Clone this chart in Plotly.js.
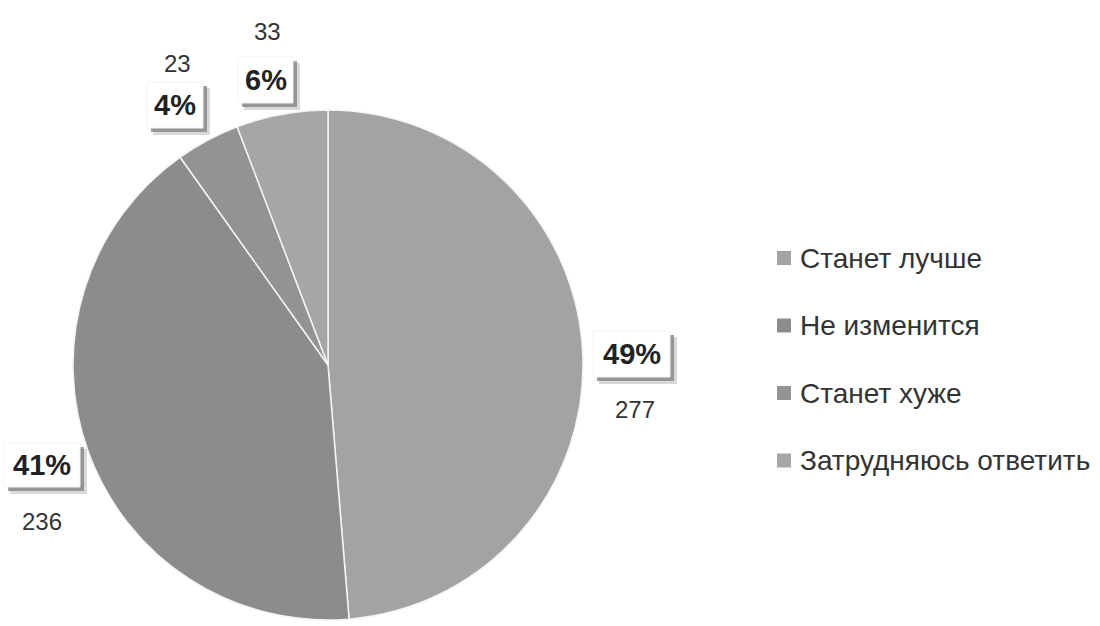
<!DOCTYPE html>
<html>
<head>
<meta charset="utf-8">
<script src="https://cdn.plot.ly/plotly-3.0.1.min.js"></script>
<style>
  html, body { margin: 0; padding: 0; background: #fff; }
  #chart { width: 1100px; height: 626px; }
</style>
</head>
<body>
<div id="chart"></div>
<script>
// Survey answers: categories and respondent counts
const categories = ['Станет лучше', 'Не изменится', 'Станет хуже', 'Затрудняюсь ответить'];
const counts = [277, 236, 23, 33];

// Slice and legend swatch colours
const sliceColors = ['#a3a3a3', '#8c8c8c', '#939393', '#a6a6a6'];

const W = 1100, H = 626;
const px = x => x / W;
const py = y => 1 - y / H;

const total = counts.reduce((a, b) => a + b, 0);
const pctText = counts.map(v => Math.round(v / total * 100) + '%');

// Label placement per slice (pixel layout): boxed percent + count line
const labelLayout = [
  { box: [593, 331, 670, 377], countAt: [635, 409] },
  { box: [4, 443, 80, 487],    countAt: [42, 521] },
  { box: [147, 82, 203, 128],  countAt: [177, 63] },
  { box: [238, 57, 293, 103],  countAt: [267, 31] }
];

const fontFam = '"Liberation Sans", Arial, sans-serif';

const shapes = [];
const annotations = [];

labelLayout.forEach((L, i) => {
  const [x0, y0, x1, y1] = L.box;
  // soft drop shadow to the lower right
  shapes.push({ type: 'rect', xref: 'paper', yref: 'paper',
    x0: px(x0 + 6), x1: px(x1 + 7), y0: py(y0 + 6), y1: py(y1 + 7),
    fillcolor: 'rgba(170,170,170,0.45)', line: { width: 0 }, layer: 'above' });
  shapes.push({ type: 'rect', xref: 'paper', yref: 'paper',
    x0: px(x0 + 4), x1: px(x1 + 4), y0: py(y0 + 4), y1: py(y1 + 4),
    fillcolor: 'rgba(120,120,120,0.7)', line: { width: 0 }, layer: 'above' });
  // white label box
  shapes.push({ type: 'rect', xref: 'paper', yref: 'paper',
    x0: px(x0), x1: px(x1), y0: py(y0), y1: py(y1),
    fillcolor: '#ffffff', line: { color: '#f2f2f2', width: 1 }, layer: 'above' });
  annotations.push({ xref: 'paper', yref: 'paper',
    x: px((x0 + x1) / 2), y: py((y0 + y1) / 2), xanchor: 'center', yanchor: 'middle',
    text: '<b>' + pctText[i] + '</b>', showarrow: false,
    font: { family: fontFam, size: 29, color: '#222222' } });
  annotations.push({ xref: 'paper', yref: 'paper',
    x: px(L.countAt[0]), y: py(L.countAt[1]), xanchor: 'center', yanchor: 'middle',
    text: String(counts[i]), showarrow: false,
    font: { family: fontFam, size: 24, color: '#333333' } });
});

// Legend: square swatch + category name, stacked vertically
const legendTop = 258, legendStep = 67.5;
categories.forEach((name, i) => {
  const cy = legendTop + i * legendStep;
  shapes.push({ type: 'rect', xref: 'paper', yref: 'paper',
    x0: px(777), x1: px(791), y0: py(cy - 7), y1: py(cy + 7),
    fillcolor: sliceColors[i], line: { width: 0 } });
  annotations.push({ xref: 'paper', yref: 'paper',
    x: px(798), y: py(cy), xanchor: 'left', yanchor: 'middle',
    text: name, showarrow: false,
    font: { family: fontFam, size: 28, color: '#333333' } });
});

const data = [{
  type: 'pie',
  labels: categories,
  values: counts,
  sort: false,
  direction: 'clockwise',
  rotation: 0,
  textinfo: 'none',
  hoverinfo: 'label+value+percent',
  marker: { colors: sliceColors, line: { color: '#f4f4f4', width: 1.5 } },
  domain: { x: [px(73), px(583)], y: [py(620), py(110)] },
  showlegend: false
}];

const layout = {
  width: W, height: H,
  margin: { l: 0, r: 0, t: 0, b: 0 },
  paper_bgcolor: '#ffffff',
  plot_bgcolor: '#ffffff',
  showlegend: false,
  shapes: shapes,
  annotations: annotations
};

Plotly.newPlot('chart', data, layout, { displayModeBar: false, staticPlot: true });
</script>
</body>
</html>
